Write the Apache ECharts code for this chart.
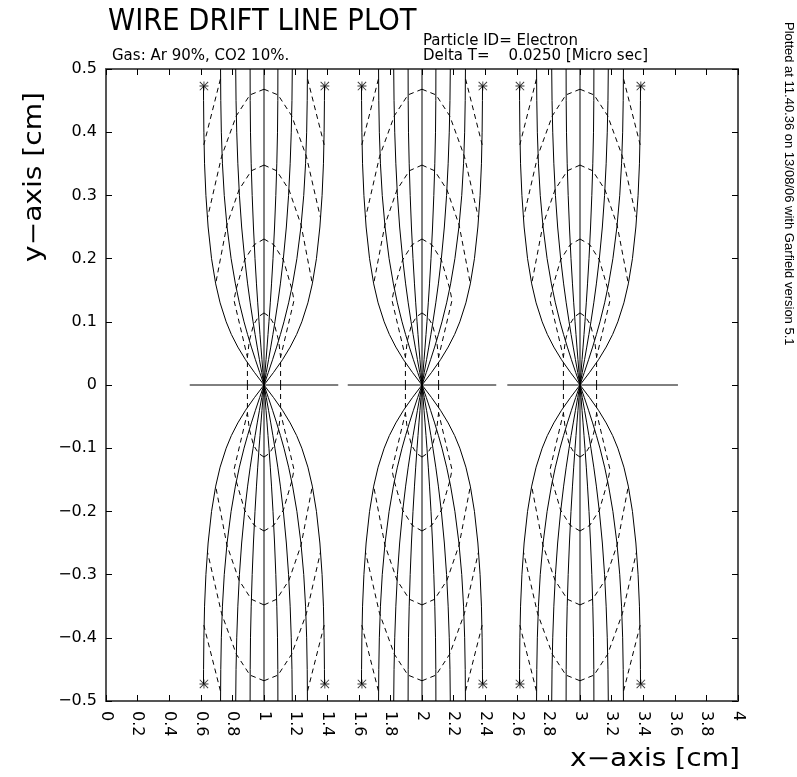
<!DOCTYPE html>
<html>
<head>
<meta charset="utf-8">
<script src="https://cdn.jsdelivr.net/npm/echarts@6/dist/echarts.min.js"></script>
<style>
  html, body { margin: 0; padding: 0; background: #fff; }
  #chart { width: 797px; height: 777px; }
</style>
</head>
<body>
<div id="chart"></div>
<script>
// wires sit on y = 0
const wireX = [1, 2, 3];
// horizontal drift lines along y = 0 (start, end)
const flatStart = [0.53, 1.53, 2.54];
const flatEnd = [1.47, 2.47, 3.62];

// drift lines, read as offsets from the wire, upper left quarter [dx, y]
const drift72 = [[0,0],[-0.0065,0.02],[-0.0129,0.04],[-0.0192,0.06],[-0.0254,0.08],[-0.0314,0.1],[-0.0398,0.13],[-0.0476,0.16],[-0.057,0.2],[-0.0668,0.25],[-0.0748,0.3],[-0.081,0.35],[-0.0855,0.4],[-0.0875,0.45],[-0.088,0.5]];
const drift54 = [[0,0],[-0.0145,0.02],[-0.0288,0.04],[-0.0428,0.06],[-0.0563,0.08],[-0.0692,0.1],[-0.0873,0.13],[-0.1036,0.16],[-0.1225,0.2],[-0.1415,0.25],[-0.1555,0.3],[-0.1655,0.35],[-0.1725,0.4],[-0.177,0.45],[-0.179,0.5]];
const drift36 = [[0,0],[-0.0274,0.02],[-0.0542,0.04],[-0.0799,0.06],[-0.104,0.08],[-0.1264,0.1],[-0.1559,0.13],[-0.181,0.16],[-0.2082,0.2],[-0.2337,0.25],[-0.2515,0.3],[-0.263,0.35],[-0.27,0.4],[-0.2735,0.45],[-0.275,0.5]];
const drift18 = [[0,0],[-0.0607,0.02],[-0.117,0.04],[-0.1656,0.06],[-0.2065,0.08],[-0.2395,0.1],[-0.2778,0.13],[-0.3057,0.16],[-0.3319,0.2],[-0.3537,0.25],[-0.3676,0.3],[-0.3762,0.35],[-0.3805,0.4],[-0.3825,0.45],[-0.383,0.473]];

// isochrons (Delta T steps), upper left quarter [dx, y]
const iso1 = [[0,0.114],[-0.035,0.108],[-0.0665,0.095],[-0.093,0.07],[-0.105,0.044],[-0.105,0]];
const iso2 = [[0,0.231],[-0.062,0.222],[-0.1225,0.198],[-0.176,0.152],[-0.19,0.134],[-0.105,0.044]];
const iso3 = [[0,0.348],[-0.08,0.339],[-0.158,0.309],[-0.235,0.253],[-0.306,0.16]];
const iso4 = [[0,0.468],[-0.089,0.459],[-0.175,0.426],[-0.268,0.362],[-0.357,0.265]];
const iso5 = [[-0.276,0.484],[-0.381,0.38]];

// end markers of the outer drift lines
const starX = [0.62, 1.385, 1.62, 2.385, 2.62, 3.385];
const starY = [0.473, -0.473];

const chart = echarts.init(document.getElementById('chart'));

const series = [];
function addLine(points, dashed) {
  series.push({
    type: 'line',
    data: points,
    showSymbol: false,
    symbol: 'none',
    silent: true,
    animation: false,
    lineStyle: { color: '#000', width: 1, type: dashed ? [5, 4] : 'solid' },
    z: dashed ? 3 : 4
  });
}

wireX.forEach(function (w, i) {
  [drift18, drift36, drift54, drift72].forEach(function (line) {
    [1, -1].forEach(function (sx) {
      [1, -1].forEach(function (sy) {
        addLine(line.map(p => [w + sx * p[0], sy * p[1]]), false);
      });
    });
  });
  addLine([[w, -0.5], [w, 0.5]], false);
  addLine([[flatStart[i], 0], [flatEnd[i], 0]], false);

  [iso1, iso2, iso3, iso4, iso5].forEach(function (iso) {
    [1, -1].forEach(function (sx) {
      [1, -1].forEach(function (sy) {
        addLine(iso.map(p => [w + sx * p[0], sy * p[1]]), true);
      });
    });
  });
});

const stars = [];
starX.forEach(x => starY.forEach(y => stars.push([x, y])));
series.push({
  type: 'scatter',
  data: stars,
  symbol: 'path://M4.5 0h1v10h-1z M0 4.5h10v1h-10z M0.7 0L10 9.3L9.3 10L0 0.7z M9.3 0L10 0.7L0.7 10L0 9.3z',
  symbolSize: 9,
  itemStyle: { color: '#000' },
  silent: true,
  animation: false,
  z: 5
});

function fmt(v) {
  return String(parseFloat(v.toFixed(2))).replace('-', '\u2212');
}

const frame = { show: true, onZero: false, lineStyle: { color: '#555', width: 2 } };
const ticks = { show: true, inside: true, length: 6, lineStyle: { color: '#000', width: 1 } };
const labelFont = { fontFamily: 'DejaVu Sans', fontSize: 16, color: '#000' };

const option = {
  animation: false,
  grid: { left: 106, right: 59, top: 69, bottom: 76, containLabel: false },
  xAxis: [
    {
      type: 'value', min: 0, max: 4, interval: 0.2, position: 'bottom',
      axisLine: frame, axisTick: ticks, splitLine: { show: false },
      axisLabel: Object.assign({ rotate: -90, margin: 10, formatter: fmt, showMinLabel: true, showMaxLabel: true, hideOverlap: false }, labelFont)
    },
    {
      type: 'value', min: 0, max: 4, interval: 0.2, position: 'top',
      axisLine: frame, axisTick: ticks, splitLine: { show: false }, axisLabel: { show: false }
    }
  ],
  yAxis: [
    {
      type: 'value', min: -0.5, max: 0.5, interval: 0.1, position: 'left',
      axisLine: frame, axisTick: ticks, splitLine: { show: false },
      axisLabel: Object.assign({ margin: 9, formatter: fmt, showMinLabel: true, showMaxLabel: true }, labelFont)
    },
    {
      type: 'value', min: -0.5, max: 0.5, interval: 0.1, position: 'right',
      axisLine: frame, axisTick: ticks, splitLine: { show: false }, axisLabel: { show: false }
    }
  ],
  series: series,
  graphic: [
    {
      type: 'text', x: 108, y: 22, scaleX: 0.885,
      style: { text: 'WIRE DRIFT LINE PLOT', fontFamily: 'DejaVu Sans', fontSize: 31, fill: '#000', align: 'left', verticalAlign: 'middle' }
    },
    {
      type: 'text', x: 112, y: 56,
      style: { text: 'Gas: Ar 90%, CO2 10%.', fontFamily: 'DejaVu Sans', fontSize: 15, fill: '#000', align: 'left', verticalAlign: 'middle' }
    },
    {
      type: 'text', x: 423, y: 41,
      style: { text: 'Particle ID= Electron', fontFamily: 'DejaVu Sans', fontSize: 15, fill: '#000', align: 'left', verticalAlign: 'middle' }
    },
    {
      type: 'text', x: 423, y: 56,
      style: { text: 'Delta T=    0.0250 [Micro sec]', fontFamily: 'DejaVu Sans', fontSize: 15, fill: '#000', align: 'left', verticalAlign: 'middle' }
    },
    {
      type: 'text', x: 35, y: 262, rotation: Math.PI / 2, scaleX: 1.17,
      style: { text: 'y\u2212axis [cm]', fontFamily: 'DejaVu Sans', fontSize: 24, fill: '#000', align: 'left', verticalAlign: 'middle' }
    },
    {
      type: 'text', x: 740, y: 760, scaleX: 1.17,
      style: { text: 'x\u2212axis [cm]', fontFamily: 'DejaVu Sans', fontSize: 24, fill: '#000', align: 'right', verticalAlign: 'middle' }
    },
    {
      type: 'text', x: 789, y: 22, rotation: -Math.PI / 2,
      style: { text: 'Plotted at 11.40.36 on 13/08/06 with Garfield version 5.1', fontFamily: 'Liberation Sans', fontSize: 13, fill: '#000', align: 'left', verticalAlign: 'middle' }
    }
  ]
};

chart.setOption(option);
</script>
</body>
</html>
